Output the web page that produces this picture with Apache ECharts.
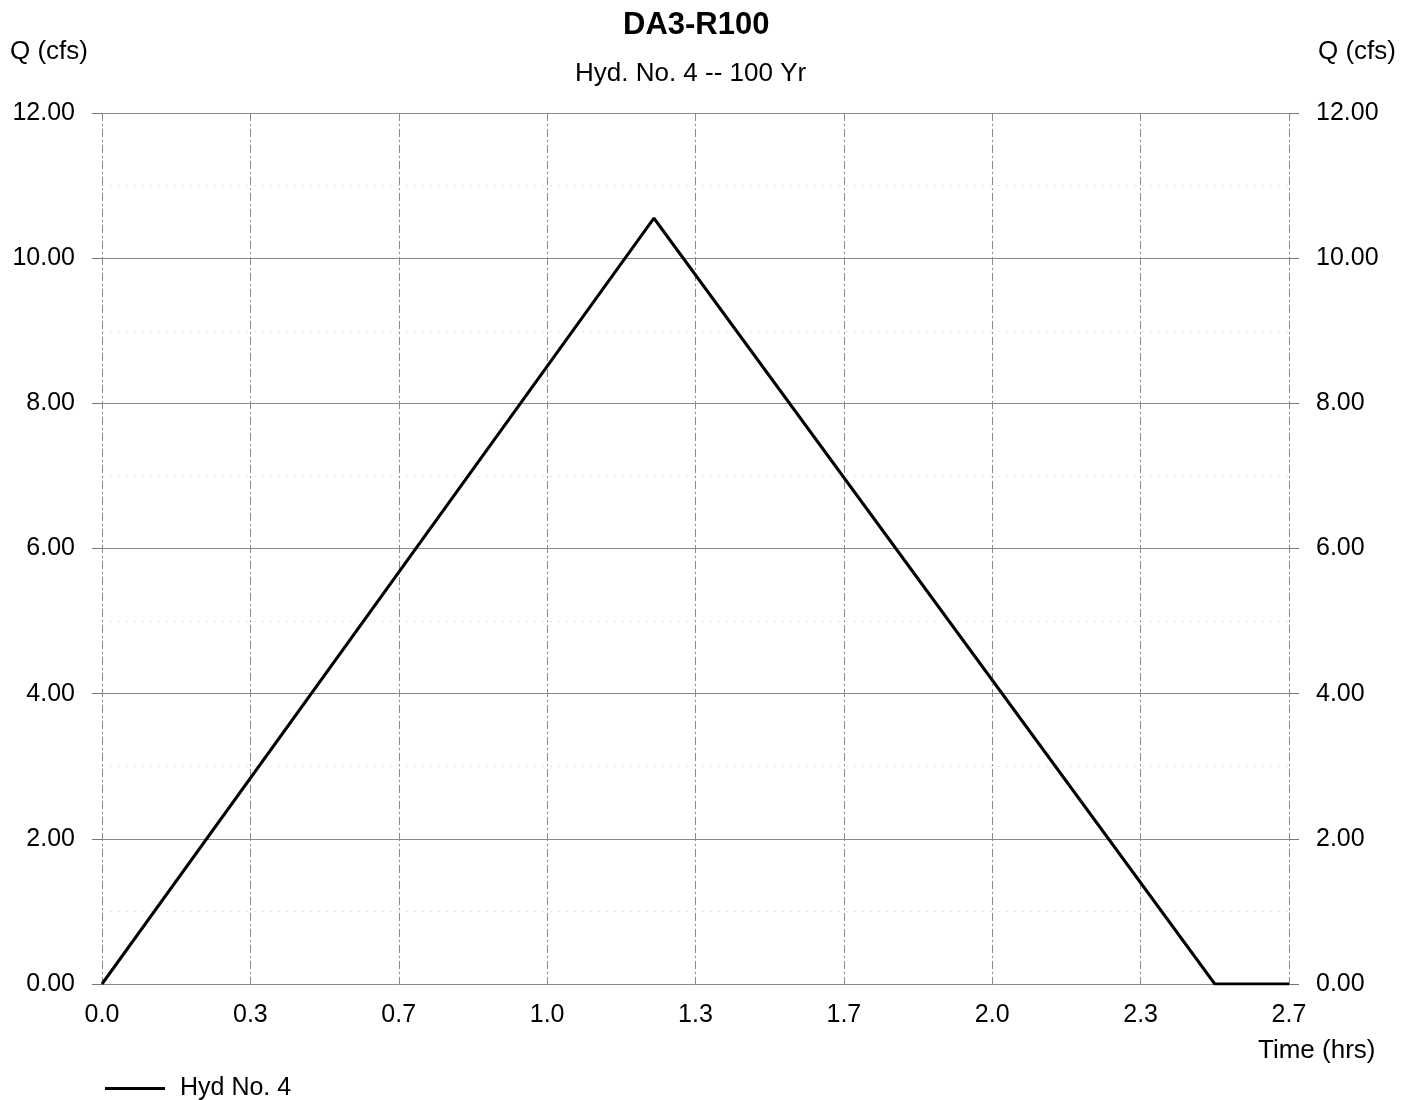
<!DOCTYPE html>
<html>
<head>
<meta charset="utf-8">
<script src="https://cdn.jsdelivr.net/npm/echarts@6/dist/echarts.min.js"></script>
<style>
html,body{margin:0;padding:0;background:#fff;}
#chart{width:1414px;height:1100px;}
</style>
</head>
<body>
<div id="chart"></div>
<script>
var titleText = 'DA3-R100';
var subtitleText = 'Hyd. No. 4 -- 100 Yr';
var seriesName = 'Hyd No. 4';
// Time (hrs) and discharge Q (cfs)
var timeHrs = [0.0, 1.24, 2.50, 2.667];
var flowCfs = [0.0, 10.55, 0.0, 0.0];
var xTickLabels = ['0.0','0.3','0.7','1.0','1.3','1.7','2.0','2.3','2.7'];
var yTickLabels = ['0.00','2.00','4.00','6.00','8.00','10.00','12.00'];

var FONT = 'Liberation Sans, Arial, sans-serif';
var chart = echarts.init(document.getElementById('chart'), null, {renderer:'canvas'});

var points = timeHrs.map(function(t,i){ return [t, flowCfs[i]]; });
var xStep = 1/3;

function yAxisCfg(pos){
  return {
    type:'value', position:pos, min:0, max:12, interval:2,
    axisLine:{show:false},
    axisTick:{show:true, length:10, lineStyle:{color:'#777', width:1}},
    axisLabel:{show:true, margin:27, fontFamily:FONT, fontSize:25, color:'#000',
      formatter:function(v){ return yTickLabels[Math.round(v/2)]; }},
    splitLine:{show: pos==='left', lineStyle:{color:'#8a8a8a', width:1}},
    minorTick:{show:false, splitNumber:2},
    minorSplitLine:{show: pos==='left', lineStyle:{color:'#e6e6e6', width:1, type:[2,6]}}
  };
}

var option = {
  backgroundColor:'#fff',
  animation:false,
  title:[
    {text:titleText, left:618, top:5, textStyle:{fontFamily:FONT, fontSize:31, fontWeight:'bold', color:'#000'}},
    {text:subtitleText, left:570, top:56, textStyle:{fontFamily:FONT, fontSize:26, fontWeight:'normal', color:'#000'}}
  ],
  grid:{left:102, right:125, top:113, bottom:116, containLabel:false},
  xAxis:{
    type:'value', min:0, max:8*xStep, interval:xStep,
    axisLine:{show:true, lineStyle:{color:'#8a8a8a', width:1}},
    axisTick:{show:false},
    axisLabel:{margin:19, fontFamily:FONT, fontSize:25, color:'#000',
      formatter:function(v){ return xTickLabels[Math.round(v/xStep)]; }},
    splitLine:{show:true, lineStyle:{color:'#8a8a8a', width:1, type:[8,3,2,3]}},
    minorSplitLine:{show:false}
  },
  yAxis:[yAxisCfg('left'), yAxisCfg('right')],
  legend:{
    show:true, left:100, top:1071, orient:'horizontal',
    icon:'rect', itemWidth:60, itemHeight:3,
    textStyle:{fontFamily:FONT, fontSize:25, color:'#000', padding:[0,0,0,10]},
    data:[seriesName]
  },
  graphic:[
    {type:'text', left:10, top:39, style:{text:'Q (cfs)', font:'26px '+FONT, fill:'#000'}},
    {type:'text', left:1318, top:39, style:{text:'Q (cfs)', font:'26px '+FONT, fill:'#000'}},
    {type:'text', left:1258, top:1038, style:{text:'Time (hrs)', font:'26px '+FONT, fill:'#000'}}
  ],
  series:[{
    name:seriesName, type:'line', yAxisIndex:0,
    data:points, showSymbol:false, smooth:false,
    lineStyle:{color:'#000', width:3}, itemStyle:{color:'#000'}
  }]
};
chart.setOption(option);
</script>
</body>
</html>
